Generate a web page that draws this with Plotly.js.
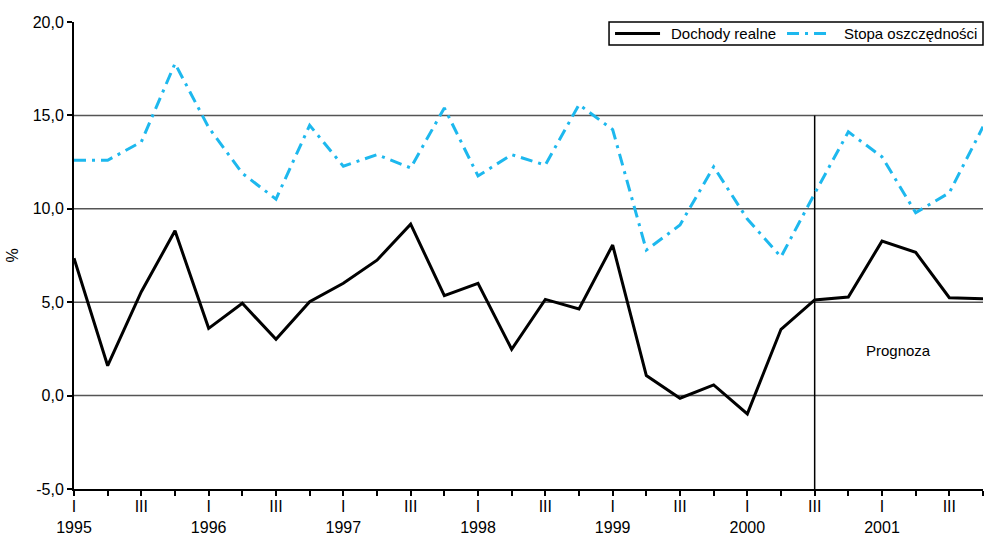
<!DOCTYPE html>
<html>
<head>
<meta charset="utf-8">
<script src="https://cdn.plot.ly/plotly-3.0.1.min.js"></script>
<style>
  html, body { margin: 0; padding: 0; background: #fff; }
  #chart { width: 984px; height: 536px; }
</style>
</head>
<body>
<div id="chart"></div>
<script>
// Quarterly periods 1995 Q1 – 2001 Q4
const quarters = [
  '1995 I', '1995 II', '1995 III', '1995 IV',
  '1996 I', '1996 II', '1996 III', '1996 IV',
  '1997 I', '1997 II', '1997 III', '1997 IV',
  '1998 I', '1998 II', '1998 III', '1998 IV',
  '1999 I', '1999 II', '1999 III', '1999 IV',
  '2000 I', '2000 II', '2000 III', '2000 IV',
  '2001 I', '2001 II', '2001 III', '2001 IV'
];

// Axis labels: quarter numeral, with the year underneath the first quarter
const tickLabels = [
  'I<br>1995', '', 'III', '',
  'I<br>1996', '', 'III', '',
  'I<br>1997', '', 'III', '',
  'I<br>1998', '', 'III', '',
  'I<br>1999', '', 'III', '',
  'I<br>2000', '', 'III', '',
  'I<br>2001', '', 'III', ''
];

// Real income growth, %
const dochodyRealne = [
  7.35, 1.6, 5.56, 8.82,
  3.6, 4.94, 3.01, 5.03,
  6.01, 7.25, 9.18, 5.35,
  6.01, 2.48, 5.15, 4.64,
  8.06, 1.07, -0.14, 0.57,
  -0.98, 3.55, 5.12, 5.28,
  8.27, 7.67, 5.24, 5.19
];

// Savings rate, %
const stopaOszczednosci = [
  12.6, 12.6, 13.58, 17.78,
  14.35, 11.9, 10.52, 14.47,
  12.28, 12.9, 12.19, 15.4,
  11.76, 12.9, 12.34, 15.58,
  14.24, 7.79, 9.13, 12.25,
  9.45, 7.43, 10.82, 14.12,
  12.78, 9.79, 10.86, 14.39
];

const yTicks = [-5, 0, 5, 10, 15, 20];
const yTickText = ['-5,0', '0,0', '5,0', '10,0', '15,0', '20,0'];

// First forecast quarter (2000 III)
const forecastStart = '2000 III';

const FONT = '"Liberation Sans", Arial, sans-serif';
const idx = quarters.map((_, i) => i);
const fIdx = quarters.indexOf(forecastStart);

const seriesStyle = [
  { name: 'Dochody realne', color: '#000000', dash: 'solid' },
  { name: 'Stopa oszczędności', color: '#1db8ee', dash: '12px,6px,3px,6px' }
];

const traces = [dochodyRealne, stopaOszczednosci].map((vals, k) => ({
  x: idx, y: vals, name: seriesStyle[k].name,
  type: 'scatter', mode: 'lines', showlegend: false,
  line: { color: seriesStyle[k].color, width: 3, dash: seriesStyle[k].dash }
}));

// Boxed legend in the top-right corner (paper coordinates)
const legBox = { x0: 0.5886, x1: 1.0, y0: 0.9507, y1: 1.0 };
const legItems = [
  { x0: 0.5952, x1: 0.6447, tx: 0.6546 },
  { x0: 0.7844, x1: 0.8339, tx: 0.8449 }
];
const legY = (legBox.y0 + legBox.y1) / 2;

const legendShapes = [
  {
    type: 'rect', xref: 'paper', yref: 'paper',
    x0: legBox.x0, x1: legBox.x1, y0: legBox.y0, y1: legBox.y1,
    line: { color: '#000', width: 1.5 }, fillcolor: '#fff', layer: 'above'
  },
  ...legItems.map((it, k) => ({
    type: 'line', xref: 'paper', yref: 'paper',
    x0: it.x0, x1: it.x1, y0: legY, y1: legY,
    line: { color: seriesStyle[k].color, width: 3, dash: seriesStyle[k].dash },
    layer: 'above'
  }))
];

const legendNotes = legItems.map((it, k) => ({
  text: seriesStyle[k].name, xref: 'paper', yref: 'paper',
  x: it.tx, y: legY, xanchor: 'left', yanchor: 'middle',
  showarrow: false, font: { family: FONT, size: 15, color: '#000' }
}));

const layout = {
  width: 984, height: 536,
  margin: { l: 74, r: 1, t: 22, b: 47 },
  paper_bgcolor: '#ffffff', plot_bgcolor: '#ffffff',
  font: { family: FONT, size: 16, color: '#000' },
  showlegend: false,
  xaxis: {
    range: [0, quarters.length - 1],
    tickmode: 'array', tickvals: idx, ticktext: tickLabels,
    ticks: 'outside', ticklen: 5, tickwidth: 2, tickcolor: '#000',
    ticklabelstandoff: -3,
    showline: true, linecolor: '#000', linewidth: 2,
    showgrid: false, zeroline: false,
    tickfont: { family: FONT, size: 16, color: '#000' },
    fixedrange: true
  },
  yaxis: {
    range: [-5, 20],
    tickmode: 'array', tickvals: yTicks, ticktext: yTickText,
    ticks: 'outside', ticklen: 5, tickwidth: 2, tickcolor: '#000',
    showline: true, linecolor: '#000', linewidth: 2,
    showgrid: false, zeroline: false,
    tickfont: { family: FONT, size: 16, color: '#000' },
    title: { text: '%', standoff: 10, font: { family: FONT, size: 16, color: '#000' } },
    fixedrange: true
  },
  shapes: [
    // horizontal reference lines at 0, 5, 10, 15
    ...[0, 5, 10, 15].map(v => ({
      type: 'line', xref: 'paper', yref: 'y', x0: 0, x1: 1, y0: v, y1: v,
      line: { color: '#555', width: 1.5 }, layer: 'below'
    })),
    // forecast boundary
    {
      type: 'line', xref: 'x', yref: 'y', x0: fIdx, x1: fIdx, y0: -5, y1: 15,
      line: { color: '#000', width: 1.5 }, layer: 'below'
    },
    ...legendShapes
  ],
  annotations: [
    {
      text: 'Prognoza', xref: 'x', yref: 'y', x: 24.5, y: 2.4,
      showarrow: false, font: { family: FONT, size: 15, color: '#000' }
    },
    ...legendNotes
  ]
};

Plotly.newPlot('chart', traces, layout, { displayModeBar: false, staticPlot: true });
</script>
</body>
</html>
